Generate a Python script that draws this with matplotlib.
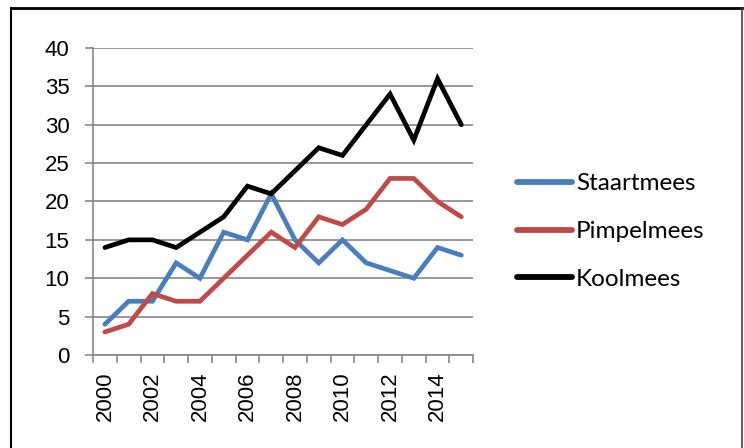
import numpy as np
from matplotlib import pyplot as plt
from matplotlib.lines import Line2D

# Datos
jaren = list(range(2000, 2016))
staartmees = [4, 7, 7, 12, 10, 16, 15, 21, 15, 12, 15, 12, 11, 10, 14, 13]
pimpelmees = [3, 4, 8, 7, 7, 10, 13, 16, 14, 18, 17, 19, 23, 23, 20, 18]
koolmees = [14, 15, 15, 14, 16, 18, 22, 21, 24, 27, 26, 30, 34, 28, 36, 30]
series = ['Staartmees', 'Pimpelmees', 'Koolmees']
kleuren = ['#4a7ebb', '#be4b48', '#000000']

plt.rcParams['font.family'] = ['Liberation Sans', 'DejaVu Sans']

fig = plt.figure(figsize=(7.44, 4.48), dpi=100)
ax = fig.add_axes([0.125, 0.2076, 0.511, 0.6853])

x = np.arange(len(jaren))
for naam, waarden, kleur in zip(series, [staartmees, pimpelmees, koolmees], kleuren):
    ax.plot(x, waarden, color=kleur, lw=3.4, label=naam, solid_capstyle='round', solid_joinstyle='miter')

ax.set_xlim(-0.5, len(jaren) - 0.5)
ax.set_ylim(0, 40)
ax.set_yticks(range(0, 41, 5))
ax.yaxis.grid(True, color='#868686', lw=1.2)
ax.set_axisbelow(True)

# Ticks de categoria entre los puntos (estilo Excel)
ax.set_xticks(np.arange(-0.5, len(jaren)), minor=False)
ax.set_xticklabels([])
ax.set_xticks(x[::2], minor=True)
ax.set_xticklabels([str(j) for j in jaren[::2]], minor=True, rotation=90, fontsize=16)
ax.tick_params(axis='x', which='major', length=6, width=1.2, color='#868686', direction='out')
ax.tick_params(axis='x', which='minor', length=0, pad=12)
ax.tick_params(axis='y', length=6, width=1.2, color='#868686', labelsize=16, pad=11)

for lado in ['top', 'right']:
    ax.spines[lado].set_visible(False)
for lado in ['left', 'bottom']:
    ax.spines[lado].set_color('#868686')
    ax.spines[lado].set_linewidth(1.2)

leg = fig.legend(loc='center left', bbox_to_anchor=(0.678, 0.483), frameon=False,
                 prop={'family': 'Lato', 'size': 17.5}, handlelength=2.3,
                 handletextpad=0.15, labelspacing=1.1, borderpad=0)
for h in leg.get_lines():
    h.set_linewidth(4.2)

# Marco exterior del grafico
W, H = 744, 448
fig.add_artist(Line2D([11 / W, 11 / W], [0, 1 - 8 / H], color='black', lw=1.5, transform=fig.transFigure))
fig.add_artist(Line2D([11 / W, 742 / W], [1 - 8 / H, 1 - 8 / H], color='black', lw=2, transform=fig.transFigure))
fig.add_artist(Line2D([742 / W, 742 / W], [0, 1 - 8 / H], color='#404040', lw=1.2, transform=fig.transFigure))

fig.savefig('out.png', dpi=100)
